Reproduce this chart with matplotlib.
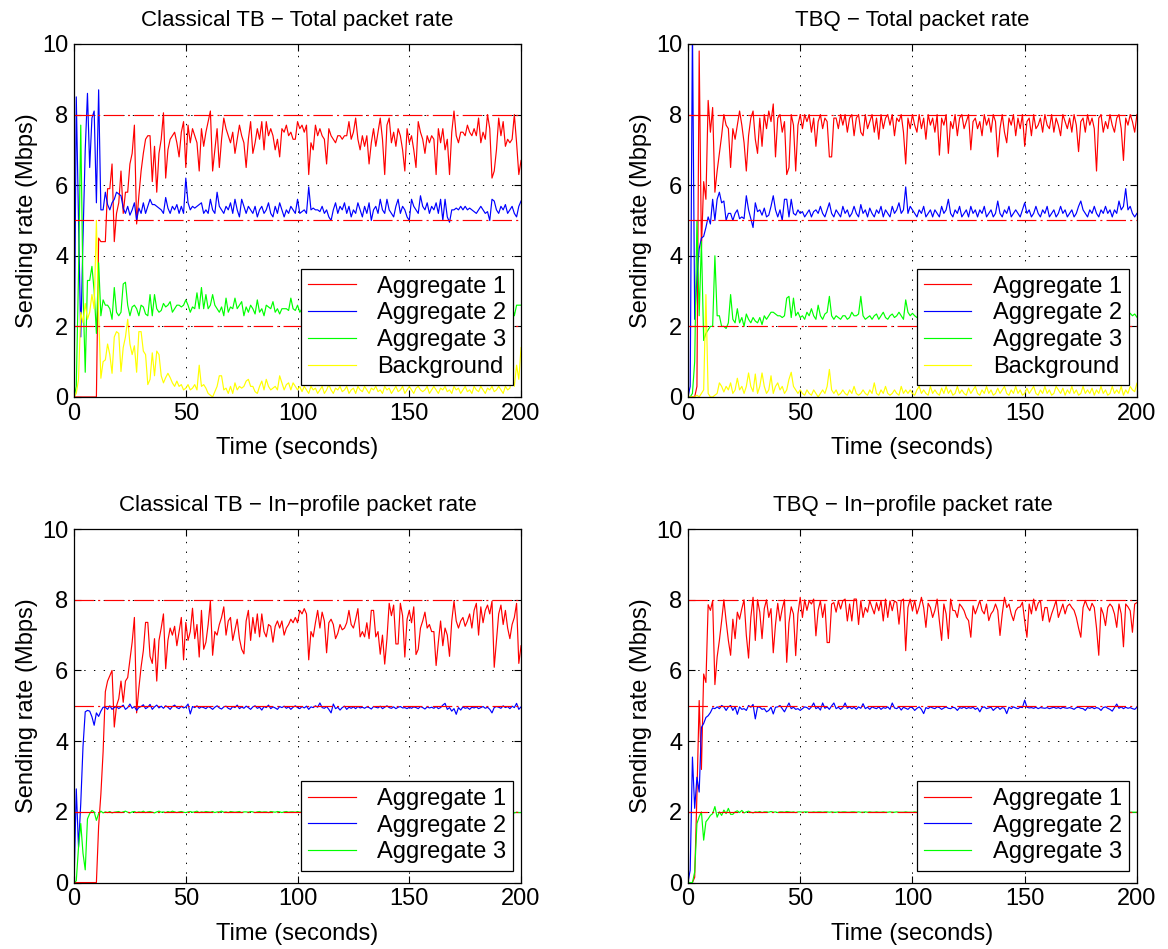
import matplotlib.pyplot as plt
import numpy as np

plt.rcParams['font.family'] = ['Liberation Sans', 'DejaVu Sans']
plt.rcParams['lines.scale_dashes'] = False
plt.rcParams['axes.unicode_minus'] = True

# ---- Classical TB, total packet rate (one value per second, t = 0..200) ----
tb_tot_a1 = [
    0, 0, 0, 0, 0, 0, 0, 0, 0, 0,
    0.0, 4.5, 4.4, 4.4, 4.4, 5.9, 5.9, 6.6, 4.4, 5.2,
    5.5, 6.4, 5.2, 5.8, 5.8, 6.6, 6.9, 7.7, 4.9, 5.7,
    6.4, 6.9, 7.3, 7.4, 7.4, 6.1, 7.1, 5.8, 6.9, 7.3,
    8.05, 6.2, 7.0, 7.3, 7.4, 7.5, 7.2, 6.8, 7.5, 7.8,
    6.5, 7.7, 7.2, 7.6, 7.4, 7.2, 6.4, 7.6, 7.1, 7.5,
    7.8, 8.1, 6.4, 7.0, 7.6, 6.5, 7.3, 7.9, 7.6, 7.4,
    7.2, 7.5, 6.9, 7.3, 7.7, 7.4, 7.2, 6.5, 7.3, 7.8,
    6.9, 7.2, 7.6, 7.3, 7.8, 7.0, 7.8, 7.4, 7.6, 7.4,
    7.0, 7.3, 6.8, 7.6, 7.5, 7.7, 7.4, 7.5, 7.3, 7.3,
    7.8, 7.6, 7.7, 7.5, 7.7, 6.3, 7.2, 7.0, 7.7, 7.4,
    7.6, 7.4, 7.3, 6.6, 7.6, 7.4, 7.3, 7.2, 7.4, 7.4,
    7.3, 7.4, 7.4, 7.8, 7.3, 7.5, 7.9, 7.3, 7.0, 7.4,
    7.1, 7.4, 6.6, 7.2, 7.6, 7.1, 7.5, 7.9, 7.3, 6.3,
    7.7, 7.9, 7.2, 7.5, 7.1, 7.6, 7.4, 7.0, 6.4, 7.6,
    7.2, 7.4, 7.0, 6.5, 7.8, 7.5, 7.3, 6.9, 7.4, 7.2,
    7.4, 7.3, 6.3, 7.6, 7.2, 7.6, 7.0, 7.3, 6.3, 7.5,
    8.1, 7.4, 7.2, 7.5, 7.5, 7.4, 7.7, 7.5, 7.4, 7.6,
    7.4, 7.9, 7.2, 7.5, 7.3, 8.0, 7.6, 6.2, 6.4, 7.0,
    7.9, 7.4, 7.8, 7.1, 7.3, 7.2, 7.3, 8.0, 7.2, 6.3,
    6.7]
tb_tot_a2 = [
    0.0, 8.5, 5.0, 1.7, 4.5, 7.0, 8.6, 6.5, 7.9, 8.1,
    5.5, 8.7, 5.3, 5.3, 5.8, 5.45, 5.3, 5.5, 5.6, 5.8,
    5.75, 5.7, 5.35, 5.2, 5.4, 5.15, 5.3, 5.5, 5.0, 5.35,
    5.2, 5.5, 5.2, 5.4, 5.6, 5.45, 5.45, 5.4, 5.35, 5.3,
    5.2, 5.65, 5.35, 5.2, 5.4, 5.3, 5.45, 5.2, 5.4, 5.2,
    6.2, 5.5, 5.3, 5.4, 5.35, 5.4, 5.45, 5.5, 5.2, 5.3,
    5.2, 5.6, 5.3, 5.2, 5.8, 5.4, 5.3, 5.2, 5.4, 5.3,
    5.5, 5.2, 5.6, 5.3, 5.1, 5.6, 5.4, 5.2, 5.4, 5.3,
    5.2, 5.4, 5.1, 5.3, 5.4, 5.2, 5.3, 5.5, 5.2, 5.1,
    5.4, 5.2, 5.5, 5.3, 5.1, 5.3, 5.2, 5.4, 5.3, 5.2,
    5.6, 5.2, 5.25, 5.3, 5.2, 5.95, 5.3, 5.35, 5.3, 5.3,
    5.25, 5.4, 5.2, 5.3, 5.1, 5.0, 5.3, 5.5, 5.2, 5.4,
    5.3, 5.5, 5.2, 5.4, 5.1, 5.3, 5.2, 5.5, 5.3, 5.1,
    5.4, 5.2, 5.5, 5.0, 5.3, 5.4, 5.2, 5.6, 5.3, 5.2,
    5.6, 5.3, 5.2, 5.1, 5.4, 5.6, 5.2, 5.4, 5.3, 5.1,
    5.0, 5.6, 5.4, 5.3, 5.2, 5.7, 5.4, 5.3, 5.5, 5.2,
    5.4, 5.3, 5.5, 5.2, 5.6, 5.0, 5.6, 5.1, 4.95, 5.3,
    5.3, 5.35, 5.3, 5.4, 5.3, 5.4, 5.3, 5.35, 5.3, 5.25,
    5.2, 5.3, 5.4, 5.3, 5.2, 5.25, 5.0, 5.6, 5.55, 5.3,
    5.2, 5.4, 5.3, 5.45, 5.2, 5.3, 5.4, 5.2, 5.1, 5.4,
    5.55]
tb_tot_a3 = [
    0.0, 0.3, 3.5, 7.7, 3.0, 0.7, 3.3, 3.3, 3.7, 3.0,
    1.8, 3.8, 2.3, 2.75, 2.6, 2.6, 2.5, 2.2, 3.1, 2.4,
    2.3, 2.4, 3.2, 3.25, 2.6, 2.3, 2.55, 2.6, 2.5, 2.3,
    2.6, 2.55, 2.35, 2.3, 2.9, 2.3, 2.9, 2.5, 2.4, 2.45,
    2.65, 2.55, 2.6, 2.7, 2.4, 2.5, 2.6, 2.6, 2.55, 2.6,
    2.75, 2.6, 2.4, 2.55, 2.5, 2.95, 2.5, 3.1, 2.5, 2.9,
    2.5, 2.6, 2.9, 2.6, 2.5, 2.4, 2.55, 2.3, 2.8, 2.4,
    2.55, 2.5, 2.8, 2.5, 2.6, 2.7, 2.3, 2.55, 2.4, 2.6,
    2.5, 2.35, 2.75, 2.4, 2.5, 2.3, 2.6, 2.55, 2.5, 2.7,
    2.4, 2.5, 2.35, 2.5, 2.5, 2.5, 2.45, 2.8, 2.5, 2.45,
    2.6, 2.4, 2.5, 2.7, 2.4, 2.5, 2.6, 2.4, 2.5, 2.6,
    2.5, 2.4, 2.6, 2.5, 2.7, 2.4, 2.5, 2.6, 2.4, 2.5,
    2.6, 2.5, 2.4, 2.7, 2.5, 2.4, 2.6, 2.5, 2.5, 2.4,
    2.5, 2.6, 2.4, 2.5, 2.7, 2.5, 2.4, 2.6, 2.5, 2.4,
    2.6, 2.5, 2.4, 2.5, 2.6, 2.5, 2.7, 2.4, 2.5, 2.6,
    2.5, 2.4, 2.6, 2.5, 2.5, 2.7, 2.4, 2.5, 2.6, 2.5,
    2.4, 2.6, 2.5, 2.5, 2.4, 2.7, 2.5, 2.4, 2.6, 2.5,
    2.5, 2.4, 2.6, 2.5, 2.7, 2.4, 2.5, 2.6, 2.5, 2.4,
    2.6, 2.5, 2.4, 2.5, 2.7, 2.5, 2.4, 2.6, 2.5, 2.5,
    2.4, 2.6, 2.5, 2.4, 2.6, 2.5, 2.6, 2.3, 2.6, 2.6,
    2.6]
tb_tot_bg = [
    0.0, 0.1, 0.5, 2.4, 2.1, 2.65, 2.2, 2.4, 2.9, 2.5,
    5.0, 2.3, 0.53, 1.0, 1.05, 1.5, 1.2, 0.67, 1.7, 1.85,
    1.8, 0.72, 1.4, 1.7, 2.2, 1.5, 1.2, 1.45, 0.7, 1.85,
    1.85, 1.3, 1.2, 0.35, 0.5, 1.25, 0.6, 1.3, 1.2, 0.6,
    0.4, 0.55, 0.67, 0.55, 0.4, 0.3, 0.45, 0.3, 0.35, 0.2,
    0.25, 0.35, 0.2, 0.25, 0.35, 0.2, 0.9, 0.3, 0.35, 0.25,
    0.1, 0.05, 0.0, 0.15, 0.3, 0.6, 0.6, 0.2, 0.25, 0.1,
    0.3, 0.1, 0.4, 0.2, 0.3, 0.25, 0.3, 0.45, 0.5, 0.3,
    0.3, 0.15, 0.1, 0.3, 0.45, 0.2, 0.5, 0.3, 0.2, 0.25,
    0.3, 0.2, 0.6, 0.4, 0.2, 0.35, 0.4, 0.2, 0.4, 0.3,
    0.2, 0.3, 0.15, 0.3, 0.2, 0.1, 0.3, 0.2, 0.25, 0.1,
    0.2, 0.3, 0.1, 0.2, 0.35, 0.2, 0.1, 0.25, 0.2, 0.3,
    0.15, 0.2, 0.3, 0.1, 0.2, 0.25, 0.1, 0.3, 0.2, 0.15,
    0.3, 0.2, 0.1, 0.25, 0.2, 0.3, 0.15, 0.2, 0.1, 0.3,
    0.2, 0.25, 0.1, 0.2, 0.3, 0.15, 0.2, 0.3, 0.1, 0.2,
    0.3, 0.2, 0.1, 0.25, 0.3, 0.2, 0.15, 0.2, 0.3, 0.1,
    0.2, 0.3, 0.2, 0.1, 0.25, 0.2, 0.3, 0.15, 0.2, 0.1,
    0.3, 0.2, 0.25, 0.1, 0.2, 0.3, 0.15, 0.2, 0.1, 0.3,
    0.2, 0.15, 0.3, 0.2, 0.1, 0.25, 0.2, 0.3, 0.15, 0.2,
    0.3, 0.2, 0.1, 0.3, 0.2, 0.25, 0.6, 0.3, 0.9, 0.5,
    1.4]

# ---- TBQ, total packet rate ----
tbq_tot_a1 = [
    0.0, 0.0, 0.0, 0.0, 0.3, 9.8, 4.2, 6.1, 5.6, 8.4,
    7.5, 8.2, 5.8, 6.4, 6.9, 7.4, 8.0, 7.7, 7.6, 6.5,
    7.6, 7.3, 7.7, 8.1, 7.7, 7.2, 6.4, 7.4, 7.9, 8.1,
    7.3, 6.9, 7.9, 7.1, 8.0, 7.6, 8.1, 7.8, 8.3, 6.8,
    7.9, 8.0, 7.5, 7.8, 6.3, 6.5, 8.0, 7.7, 6.4, 7.7,
    8.0, 7.6, 8.0, 7.8, 8.0, 7.5, 7.9, 7.1, 7.8, 8.0,
    7.6, 7.9, 7.8, 6.8, 6.8, 7.9, 7.9, 7.6, 8.0, 7.7,
    8.0, 7.5, 7.9, 8.0, 7.4, 7.9, 8.0, 7.5, 7.4, 8.0,
    7.6, 7.8, 8.0, 7.5, 7.9, 7.3, 8.0, 7.6, 7.9, 8.0,
    7.7, 8.0, 7.4, 7.9, 7.8, 8.0, 7.5, 6.6, 7.9, 7.6,
    8.0, 7.7, 7.5, 8.0, 7.6, 7.9, 7.3, 8.0, 7.7, 7.9,
    7.5, 8.0, 6.85, 7.9, 7.7, 8.0, 6.9, 7.8, 7.6, 8.0,
    7.4, 7.9, 8.0, 7.6, 7.8, 8.0, 7.0, 7.8, 7.9, 7.6,
    7.8, 7.4, 8.0, 7.7, 7.9, 7.5, 8.0, 7.8, 6.8, 7.6,
    8.0, 7.5, 7.2, 7.9, 7.7, 8.0, 7.4, 7.9, 7.6, 8.0,
    7.1, 7.8, 7.9, 7.4, 8.0, 7.6, 7.7, 7.9, 7.5, 8.0,
    7.7, 7.6, 8.0, 7.5, 7.9, 7.7, 7.4, 8.0, 7.8, 7.6,
    7.9, 7.5, 8.0, 7.7, 6.95, 7.8, 7.9, 7.5, 8.0, 7.7,
    7.9, 7.6, 6.4, 7.9, 8.0, 7.5, 7.8, 7.6, 8.0, 7.7,
    7.5, 7.9, 8.0, 7.6, 6.7, 7.9, 7.7, 8.0, 7.8, 7.5,
    8.0]
tbq_tot_a2 = [
    0.0, 0.3, 10.5, 2.2, 3.4, 4.2, 4.5, 4.55, 4.8, 5.1,
    4.9, 5.6, 5.0, 5.6, 5.8, 5.5, 5.55, 5.0, 5.2, 5.2,
    5.0, 5.2, 5.3, 5.05, 5.1, 5.05, 5.7, 5.3, 5.05, 4.8,
    5.5, 5.25, 5.3, 5.15, 5.35, 5.1, 5.15, 5.4, 5.7, 5.3,
    5.1, 5.3, 5.0, 5.6, 5.6, 5.1, 5.6, 5.2, 5.15, 5.3,
    5.2, 5.25, 5.1, 5.2, 5.3, 5.1, 5.25, 5.3, 5.2, 5.4,
    5.2, 5.1, 5.3, 5.5, 5.2, 5.1, 5.3, 5.2, 5.1, 5.4,
    5.2, 5.3, 5.1, 5.2, 5.4, 5.2, 5.1, 5.45, 5.2, 5.3,
    5.1, 5.35, 5.2, 5.1, 5.3, 5.2, 5.4, 5.1, 5.3, 5.2,
    5.1, 5.4, 5.2, 5.3, 5.5, 5.2, 5.3, 5.95, 5.2, 5.4,
    5.3, 5.2, 5.1, 5.3, 5.2, 5.4, 5.1, 5.2, 5.3, 5.1,
    5.3, 5.2, 5.1, 5.4, 5.2, 5.3, 5.6, 5.2, 5.1, 5.3,
    5.2, 5.4, 5.1, 5.2, 5.3, 5.1, 5.4, 5.2, 5.3, 5.1,
    5.3, 5.2, 5.4, 5.1, 5.2, 5.3, 5.1, 5.2, 5.55, 5.2,
    5.1, 5.3, 5.2, 5.4, 5.1, 5.2, 5.3, 5.2, 5.1, 5.3,
    5.5, 5.2, 5.3, 5.1, 5.2, 5.4, 5.2, 5.1, 5.3, 5.2,
    5.4, 5.1, 5.2, 5.3, 5.1, 5.2, 5.4, 5.2, 5.3, 5.1,
    5.2, 5.3, 5.1, 5.2, 5.4, 5.55, 5.3, 5.2, 5.1, 5.3,
    5.2, 5.4, 5.2, 5.1, 5.3, 5.2, 5.4, 5.2, 5.3, 5.1,
    5.3, 5.2, 5.55, 5.3, 5.4, 5.9, 5.3, 5.4, 5.2, 5.1,
    5.2]
tbq_tot_a3 = [
    0.0, 0.0, 0.1, 1.0, 5.0, 2.3, 4.4, 1.6, 1.8, 1.9,
    2.0, 2.0, 4.0, 2.3, 2.3, 2.0, 2.0, 1.94, 2.1, 2.9,
    2.2, 2.1, 2.5, 2.1, 2.25, 2.0, 2.35, 2.2, 2.1, 2.25,
    2.15, 2.1, 2.25, 2.05, 2.3, 2.2, 2.3, 2.4, 2.4, 2.35,
    2.3, 2.3, 2.25, 2.3, 2.8, 2.85, 2.25, 2.8, 2.3, 2.4,
    2.25, 2.3, 2.2, 2.4, 2.3, 2.5, 2.3, 2.2, 2.6, 2.3,
    2.2, 2.35, 2.4, 2.85, 2.3, 2.2, 2.3, 2.25, 2.2, 2.3,
    2.3, 2.2, 2.25, 2.4, 2.3, 2.3, 2.35, 2.85, 2.3, 2.2,
    2.25, 2.3, 2.2, 2.3, 2.35, 2.2, 2.3, 2.4, 2.25, 2.2,
    2.3, 2.35, 2.25, 2.3, 2.4, 2.3, 2.2, 2.75, 2.4, 2.3,
    2.37, 2.3, 2.25, 2.3, 2.4, 2.2, 2.3, 2.35, 2.25, 2.3,
    2.2, 2.3, 2.4, 2.25, 2.3, 2.2, 2.35, 2.3, 2.25, 2.3,
    2.3, 2.25, 2.4, 2.2, 2.3, 2.35, 2.2, 2.3, 2.3, 2.25,
    2.3, 2.4, 2.2, 2.3, 2.25, 2.35, 2.3, 2.2, 2.3, 2.4,
    2.25, 2.3, 2.2, 2.35, 2.3, 2.25, 2.4, 2.3, 2.2, 2.3,
    2.3, 2.2, 2.35, 2.3, 2.25, 2.4, 2.3, 2.2, 2.3, 2.35,
    2.25, 2.3, 2.4, 2.2, 2.3, 2.3, 2.25, 2.35, 2.3, 2.2,
    2.3, 2.4, 2.25, 2.3, 2.2, 2.35, 2.3, 2.25, 2.3, 2.4,
    2.2, 2.3, 2.35, 2.25, 2.3, 2.4, 2.2, 2.3, 2.25, 2.3,
    2.35, 2.3, 2.2, 2.3, 2.4, 2.3, 2.25, 2.37, 2.3, 2.35,
    2.26]
tbq_tot_bg = [
    0.0, 0.0, 0.0, 0.0, 0.05, 0.0, 0.1, 0.2, 2.9, 0.1,
    0.0, 0.0, 0.05, 0.1, 0.4, 0.3, 0.14, 0.3, 0.2, 0.4,
    0.1, 0.2, 0.53, 0.2, 0.3, 0.1, 0.3, 0.68, 0.3, 0.15,
    0.65, 0.1, 0.3, 0.68, 0.3, 0.1, 0.2, 0.6, 0.1, 0.3,
    0.4, 0.2, 0.3, 0.1, 0.2, 0.5, 0.7, 0.3, 0.2, 0.1,
    0.2, 0.1, 0.05, 0.2, 0.1, 0.05, 0.2, 0.1, 0.0, 0.1,
    0.2, 0.1, 0.3, 0.78, 0.2, 0.1, 0.2, 0.05, 0.1, 0.2,
    0.1, 0.05, 0.2, 0.1, 0.3, 0.1, 0.05, 0.1, 0.2, 0.1,
    0.05, 0.2, 0.1, 0.4, 0.1, 0.05, 0.2, 0.1, 0.3, 0.1,
    0.05, 0.1, 0.2, 0.1, 0.05, 0.3, 0.1, 0.2, 0.1, 0.2,
    0.1, 0.05, 0.2, 0.3, 0.1, 0.2, 0.1, 0.05, 0.3, 0.1,
    0.2, 0.1, 0.05, 0.25, 0.1, 0.3, 0.1, 0.2, 0.05, 0.1,
    0.3, 0.1, 0.2, 0.1, 0.05, 0.25, 0.1, 0.2, 0.3, 0.1,
    0.05, 0.2, 0.1, 0.3, 0.1, 0.2, 0.05, 0.1, 0.25, 0.1,
    0.2, 0.3, 0.1, 0.05, 0.2, 0.1, 0.3, 0.1, 0.2, 0.05,
    0.1, 0.25, 0.1, 0.2, 0.3, 0.1, 0.05, 0.2, 0.1, 0.3,
    0.1, 0.2, 0.05, 0.1, 0.3, 0.2, 0.1, 0.25, 0.05, 0.2,
    0.1, 0.3, 0.1, 0.2, 0.05, 0.1, 0.3, 0.1, 0.2, 0.1,
    0.25, 0.05, 0.2, 0.1, 0.3, 0.1, 0.2, 0.05, 0.1, 0.3,
    0.1, 0.2, 0.1, 0.3, 0.05, 0.2, 0.1, 0.3, 0.2, 0.15,
    0.39]

# ---- Classical TB, in-profile packet rate ----
tb_in_a1 = [
    0, 0, 0, 0, 0, 0, 0, 0, 0, 0,
    0.0, 1.6, 2.5, 3.7, 5.4, 5.7, 5.85, 6.0, 4.4, 5.0,
    5.2, 5.7, 5.1, 5.7, 5.8, 6.3, 6.8, 7.5, 4.8, 5.5,
    6.1, 6.56, 7.36, 7.36, 6.4, 6.2, 6.9, 5.7, 6.85, 7.2,
    7.6, 6.05, 6.85, 7.2, 7.0, 7.25, 6.7, 7.1, 7.5, 6.3,
    7.36, 6.85, 7.1, 7.76, 6.9, 7.3, 6.38, 7.7, 6.6, 6.8,
    7.3, 7.96, 6.43, 7.1, 7.0, 7.3, 7.5, 7.8, 7.0, 7.4,
    7.5, 6.85, 7.15, 7.45, 6.9, 6.6, 6.47, 7.4, 7.7, 6.85,
    7.5, 7.05, 7.6, 6.95, 7.6, 7.1, 6.95, 7.3, 7.25, 6.8,
    7.25, 7.4, 7.2, 7.4, 7.0, 7.2, 7.3, 7.45, 7.35, 7.5,
    7.35, 7.7, 7.6, 7.75, 7.6, 6.3, 7.1, 6.95, 7.35, 7.7,
    7.2, 7.65, 7.4, 6.5, 7.35, 7.45, 7.3, 6.9, 7.05, 7.3,
    7.15, 7.2, 7.35, 7.7, 7.3, 7.2, 7.45, 7.75, 6.95, 7.1,
    6.95, 7.35, 6.9, 7.7, 7.7, 6.95, 7.1, 6.46, 7.0, 6.18,
    6.9, 7.9, 7.55, 7.85, 6.75, 6.75, 7.9, 7.55, 6.38, 7.45,
    7.7, 7.35, 7.8, 6.45, 6.6, 7.2, 7.4, 7.65, 7.2, 7.3,
    7.1, 7.1, 6.14, 6.8, 7.4, 6.7, 7.2, 7.0, 6.4, 7.4,
    7.96, 7.4, 7.2, 7.4, 7.5, 7.25, 7.4, 7.6, 7.2, 7.7,
    7.9, 7.0, 7.8, 7.35, 7.7, 7.85, 7.6, 7.96, 6.09, 6.85,
    7.6, 7.85, 7.3, 7.7, 7.2, 6.9, 7.3, 7.5, 7.9, 6.2,
    6.7]
tb_in_a2 = [
    0.0, 2.65, 1.0, 2.24, 3.84, 4.83, 4.87, 4.85, 4.69, 4.45,
    4.8, 4.7, 4.85, 4.96, 4.96, 4.9, 5.0, 4.9, 4.95, 4.98,
    4.92, 4.97, 5.02, 4.9, 4.95, 5.05, 4.93, 4.98, 4.87, 4.95,
    4.98, 5.03, 4.92, 4.96, 5.04, 4.9, 4.97, 5.02, 4.94, 4.99,
    4.93, 5.0, 4.96, 4.9, 4.98, 5.02, 4.95, 4.92, 4.99, 4.94,
    4.97, 5.05, 4.77, 4.98, 4.95, 5.0, 4.93, 4.97, 4.95, 4.92,
    4.98, 4.95, 4.9, 4.96, 5.0, 4.94, 4.91, 4.97, 4.99, 4.93,
    4.9, 4.98, 4.95, 5.02, 4.92, 4.97, 4.93, 4.99, 4.95, 4.9,
    4.97, 5.0, 4.93, 4.96, 4.88, 4.98, 4.95, 5.02, 4.92, 4.97,
    4.94, 4.9, 4.98, 4.95, 4.99, 4.93, 4.97, 4.9, 4.96, 5.0,
    4.95, 4.92, 4.98, 4.94, 4.99, 4.9, 4.97, 4.95, 5.0, 4.96,
    5.08, 4.95, 4.93, 4.98, 4.9, 4.8, 5.05, 4.92, 4.96, 4.88,
    4.95, 4.99, 4.9, 4.96, 4.93, 4.97, 4.92, 4.98, 4.94, 4.96,
    4.93, 4.97, 4.95, 4.91, 4.98, 4.96, 4.94, 4.99, 4.92, 4.96,
    5.0, 4.95, 4.93, 4.97, 4.92, 4.96, 4.98, 4.94, 4.95, 4.92,
    4.96, 4.93, 4.97, 4.95, 4.92, 4.98, 4.95, 4.91, 4.97, 4.94,
    4.96, 4.93, 4.98, 4.92, 4.95, 5.02, 5.07, 4.9, 4.95, 4.85,
    4.92, 4.76, 4.95, 4.88, 4.97, 4.93, 4.95, 4.9, 4.96, 4.94,
    4.97, 4.92, 4.95, 4.98, 4.93, 4.96, 4.9, 4.8, 4.95, 4.98,
    4.96, 4.93, 5.0, 4.95, 4.98, 4.92, 4.99, 4.95, 5.07, 4.9,
    4.97]
tb_in_a3 = [
    0.0, 0.05, 1.0, 1.67, 0.83, 0.36, 1.8, 1.95, 2.04, 2.0,
    1.76, 1.95, 2.02, 1.97, 2.0, 1.98, 2.01, 1.97, 1.99, 2.0,
    2.01, 1.98, 2.0, 2.02, 1.99, 1.97, 2.0, 2.01, 1.98, 2.0,
    1.99, 2.02, 1.98, 2.0, 2.01, 1.99, 1.97, 2.0, 2.02, 1.99,
    2.0, 1.98, 2.01, 1.99, 2.02, 2.0, 1.98, 2.0, 2.01, 1.99,
    1.98, 2.0, 2.01, 1.99, 2.0, 2.02, 1.98, 2.0, 1.99, 2.01,
    2.0, 1.99, 2.01, 1.98, 2.0, 2.0, 2.02, 1.99, 2.0, 1.98,
    2.01, 2.0, 1.99, 2.0, 2.01, 1.98, 2.0, 2.0, 1.99, 2.01,
    2.0, 1.98, 2.0, 2.01, 1.99, 2.0, 2.0, 1.98, 2.01, 2.0,
    1.99, 2.01, 2.0, 1.98, 2.0, 2.01, 1.99, 2.0, 2.0, 1.99,
    2.01, 1.99, 2.0, 2.0, 1.98, 2.01, 2.0, 1.99, 2.0, 2.01,
    1.99, 2.0, 2.01, 1.98, 2.0, 2.0, 1.99, 2.01, 2.0, 1.99,
    2.0, 2.01, 1.99, 2.0, 1.98, 2.0, 2.01, 2.0, 1.99, 2.0,
    2.01, 1.99, 2.0, 2.0, 1.98, 2.01, 2.0, 1.99, 2.0, 2.01,
    2.0, 1.98, 2.0, 2.01, 1.99, 2.0, 2.0, 2.01, 1.99, 2.0,
    1.99, 2.0, 2.01, 2.0, 1.98, 2.0, 2.01, 1.99, 2.0, 2.0,
    2.01, 1.99, 2.0, 1.98, 2.0, 2.01, 2.0, 1.99, 2.0, 2.01,
    2.0, 1.99, 2.0, 2.01, 1.98, 2.0, 2.0, 1.99, 2.01, 2.0,
    1.99, 2.0, 2.01, 2.0, 1.99, 2.0, 1.98, 2.0, 2.01, 2.0,
    2.0, 1.99, 2.0, 2.01, 1.98, 1.99, 2.0, 1.97, 1.99, 1.98,
    1.98]

# ---- TBQ, in-profile packet rate ----
tbq_in_a1 = [
    0.0, 0.0, 0.0, 0.15, 2.5, 5.15, 3.2, 5.9, 5.66, 7.86,
    7.7, 7.97, 5.6, 6.38, 6.85, 7.4, 8.0, 7.4, 6.85, 6.43,
    7.45, 6.9, 7.65, 7.45, 7.75, 8.0, 7.0, 6.35, 7.5, 8.07,
    6.85, 8.0, 7.65, 6.9, 7.75, 8.0, 7.5, 7.75, 6.5, 7.3,
    7.9, 7.4, 7.75, 8.0, 6.23, 7.35, 7.8, 7.6, 6.42, 7.6,
    8.07, 7.5, 8.0, 7.7, 7.97, 7.88, 8.02, 6.98, 7.7, 7.97,
    7.5, 7.88, 6.79, 6.79, 7.88, 7.92, 7.65, 7.97, 7.74, 7.97,
    8.02, 7.4, 7.88, 7.4, 8.02, 8.02, 7.3, 7.97, 7.5, 7.78,
    7.65, 7.97, 7.78, 7.6, 7.92, 7.69, 7.97, 7.4, 8.02, 7.5,
    7.97, 7.69, 7.97, 7.92, 7.31, 7.97, 8.02, 6.56, 7.78, 8.02,
    7.69, 7.98, 7.6, 7.8, 8.07, 7.78, 7.22, 7.9, 7.78, 7.5,
    7.7, 8.02, 7.4, 6.85, 7.88, 7.6, 6.9, 8.02, 7.7, 7.69,
    7.5, 7.88, 7.8, 7.69, 7.5, 7.41, 6.94, 7.83, 7.6, 7.78,
    7.98, 7.7, 7.6, 7.88, 7.41, 7.6, 7.69, 7.88, 7.7, 6.99,
    7.6, 8.07, 7.78, 7.88, 7.6, 7.41, 7.69, 7.78, 7.8, 7.93,
    7.4, 6.94, 7.88, 7.6, 8.02, 7.69, 7.9, 7.98, 7.41, 7.78,
    7.78, 7.37, 7.6, 7.78, 7.98, 7.5, 7.69, 7.88, 7.6, 7.82,
    7.88, 7.78, 7.7, 7.5, 7.2, 6.94, 7.78, 7.98, 7.8, 7.69,
    7.9, 7.78, 7.2, 6.43, 7.78, 7.6, 7.27, 7.78, 7.88, 7.8,
    7.6, 7.22, 7.88, 7.6, 6.67, 7.88, 7.8, 7.69, 7.08, 7.88,
    7.92]
tbq_in_a2 = [
    0.0, 0.35, 3.55, 2.1, 2.98, 2.56, 4.39, 4.5, 4.67, 4.72,
    4.81, 4.94, 4.92, 4.97, 4.92, 5.01, 4.97, 4.87, 4.97, 5.01,
    4.87, 4.97, 4.76, 4.97, 4.9, 4.92, 4.87, 5.01, 4.96, 5.04,
    4.63, 4.97, 4.96, 4.9, 4.92, 4.83, 4.87, 4.96, 4.77, 4.96,
    4.97, 5.01, 4.92, 4.83, 4.96, 5.08, 4.92, 4.96, 4.9, 4.92,
    4.87, 4.92, 4.97, 4.95, 4.9, 4.97, 5.08, 4.92, 4.96, 4.88,
    5.08, 4.93, 4.97, 4.9, 5.0, 5.08, 4.92, 4.96, 4.9, 4.95,
    5.08, 4.93, 4.97, 4.92, 4.96, 4.9, 4.97, 4.93, 5.06, 4.92,
    4.96, 4.9, 4.97, 4.94, 4.92, 4.97, 4.9, 4.95, 4.93, 4.97,
    4.9, 5.08, 4.94, 4.92, 4.97, 4.88, 4.96, 4.93, 4.9, 4.96,
    4.95, 4.87, 4.93, 4.97, 4.9, 4.78, 4.95, 4.92, 4.97, 4.94,
    4.92, 4.97, 4.95, 4.9, 4.94, 4.97, 4.93, 4.92, 4.96, 4.94,
    4.87, 4.95, 4.93, 4.97, 4.92, 4.95, 4.93, 4.96, 4.9, 4.94,
    4.83, 4.95, 4.97, 4.92, 4.94, 4.96, 4.87, 4.93, 4.97, 4.9,
    4.95, 4.93, 4.78, 4.96, 4.92, 4.97, 4.94, 4.92, 4.96, 4.95,
    5.16, 4.96, 4.94, 4.95, 4.93, 4.96, 4.92, 4.95, 4.94, 4.93,
    4.95, 4.92, 4.94, 4.96, 4.93, 4.95, 4.92, 4.96, 4.94, 4.93,
    4.95, 4.93, 4.9, 4.95, 4.96, 4.93, 4.92, 4.87, 4.95, 4.93,
    4.96, 4.92, 4.95, 4.93, 4.87, 4.95, 4.97, 4.93, 4.9, 4.85,
    4.95, 5.05, 4.93, 4.97, 4.92, 4.96, 4.93, 4.95, 4.92, 4.9,
    4.96]
tbq_in_a3 = [
    0.0, 0.0, 0.0, 0.3, 1.67, 1.86, 2.0, 1.2, 1.72, 1.8,
    1.9, 1.95, 2.15, 1.85, 2.0, 1.9, 2.05, 1.95, 2.1, 1.93,
    1.93, 2.0, 2.03, 1.98, 2.04, 1.97, 2.0, 2.02, 1.99, 1.97,
    2.0, 1.99, 2.01, 1.98, 2.0, 2.0, 1.99, 2.01, 1.99, 2.0,
    1.98, 2.0, 2.0, 1.99, 2.01, 2.0, 1.99, 2.0, 1.98, 2.0,
    2.0, 1.99, 2.0, 2.0, 1.99, 1.99, 2.0, 1.99, 2.0, 2.0,
    1.99, 2.0, 2.0, 1.99, 2.0, 1.99, 1.99, 2.0, 1.99, 2.0,
    2.0, 1.99, 1.99, 2.0, 2.0, 1.99, 2.0, 1.99, 1.99, 2.0,
    1.99, 2.0, 1.99, 1.99, 2.0, 1.99, 1.99, 2.0, 1.99, 1.99,
    2.0, 1.99, 1.99, 2.0, 1.99, 1.99, 1.99, 2.0, 1.99, 1.99,
    1.99, 2.0, 1.99, 1.99, 1.99, 2.0, 1.99, 1.99, 1.99, 1.99,
    2.0, 1.99, 1.99, 1.99, 1.99, 2.0, 1.99, 1.99, 1.99, 1.99,
    1.99, 2.0, 1.99, 1.99, 1.99, 1.99, 1.99, 2.0, 1.99, 1.99,
    1.99, 1.99, 1.99, 1.99, 2.0, 1.99, 1.99, 1.99, 1.99, 1.99,
    1.99, 1.99, 2.0, 1.99, 1.99, 1.99, 1.99, 1.99, 1.99, 1.99,
    2.0, 1.99, 1.99, 1.99, 1.99, 1.99, 1.99, 1.99, 2.0, 1.99,
    1.99, 1.99, 1.99, 1.99, 1.99, 1.99, 1.99, 1.99, 1.99, 2.0,
    1.99, 1.99, 1.99, 1.99, 1.99, 1.99, 1.99, 1.99, 1.99, 1.99,
    1.99, 1.99, 1.99, 2.0, 1.99, 1.99, 1.99, 1.99, 1.99, 1.99,
    1.99, 1.99, 1.99, 1.99, 1.99, 1.99, 1.99, 1.99, 1.99, 1.99,
    1.99]

# contracted rates of the three aggregates (Mbps)
targets = [8, 5, 2]
labels_total = ['Aggregate 1', 'Aggregate 2', 'Aggregate 3', 'Background']
labels_in = ['Aggregate 1', 'Aggregate 2', 'Aggregate 3']
colors = ['#ff0000', '#0000ff', '#00ff00', '#ffff00']

fs = 17

fig = plt.figure(figsize=(11.68, 9.49), dpi=100)

# axes boxes in figure fractions (left, bottom, width, height)
ax_tl = fig.add_axes([0.0634, 0.5817, 0.3827, 0.3720])
ax_tr = fig.add_axes([0.5890, 0.5817, 0.3844, 0.3720])
ax_bl = fig.add_axes([0.0634, 0.0700, 0.3827, 0.3725])
ax_br = fig.add_axes([0.5890, 0.0700, 0.3844, 0.3725])


def draw_panel(ax, series, labels, title):
    handles = []
    for s, c, lab in zip(series, colors, labels):
        x = np.arange(len(s))
        h, = ax.plot(x, s, color=c, lw=0.85, label=lab)
        handles.append(h)
    for v in targets:
        ax.plot([0, 200], [v, v], color='#ff0000', lw=0.85,
                dashes=(14, 3, 1.5, 3))
    ax.set_xlim(0, 200)
    ax.set_ylim(0, 10)
    ax.set_xticks([0, 50, 100, 150, 200])
    ax.set_yticks([0, 2, 4, 6, 8, 10])
    ax.grid(True, color='k', linestyle=(0, (1, 6)), lw=0.7)
    ax.set_axisbelow(True)
    ax.tick_params(direction='in', length=5, top=True, right=True,
                   labelsize=fs, width=0.8, pad=4)
    for sp in ax.spines.values():
        sp.set_linewidth(0.9)
    ax.set_title(title, fontsize=16, pad=13)
    ax.set_xlabel('Time (seconds)', fontsize=fs, labelpad=9)
    ax.set_ylabel('Sending rate (Mbps)', fontsize=fs, labelpad=3)
    leg = ax.legend(handles=handles, loc='lower right',
                    bbox_to_anchor=(0.982, 0.034), fontsize=fs,
                    fancybox=False, framealpha=1, edgecolor='k',
                    handlelength=2.0, handletextpad=0.9,
                    labelspacing=0.2, borderpad=0.3, borderaxespad=0)
    leg.get_frame().set_linewidth(0.9)


draw_panel(ax_tl, [tb_tot_a1, tb_tot_a2, tb_tot_a3, tb_tot_bg],
           labels_total, 'Classical TB \u2212 Total packet rate')
draw_panel(ax_tr, [tbq_tot_a1, tbq_tot_a2, tbq_tot_a3, tbq_tot_bg],
           labels_total, 'TBQ \u2212 Total packet rate')
draw_panel(ax_bl, [tb_in_a1, tb_in_a2, tb_in_a3],
           labels_in, 'Classical TB \u2212 In\u2212profile packet rate')
draw_panel(ax_br, [tbq_in_a1, tbq_in_a2, tbq_in_a3],
           labels_in, 'TBQ \u2212 In\u2212profile packet rate')

fig.savefig('out.png', dpi=100)
